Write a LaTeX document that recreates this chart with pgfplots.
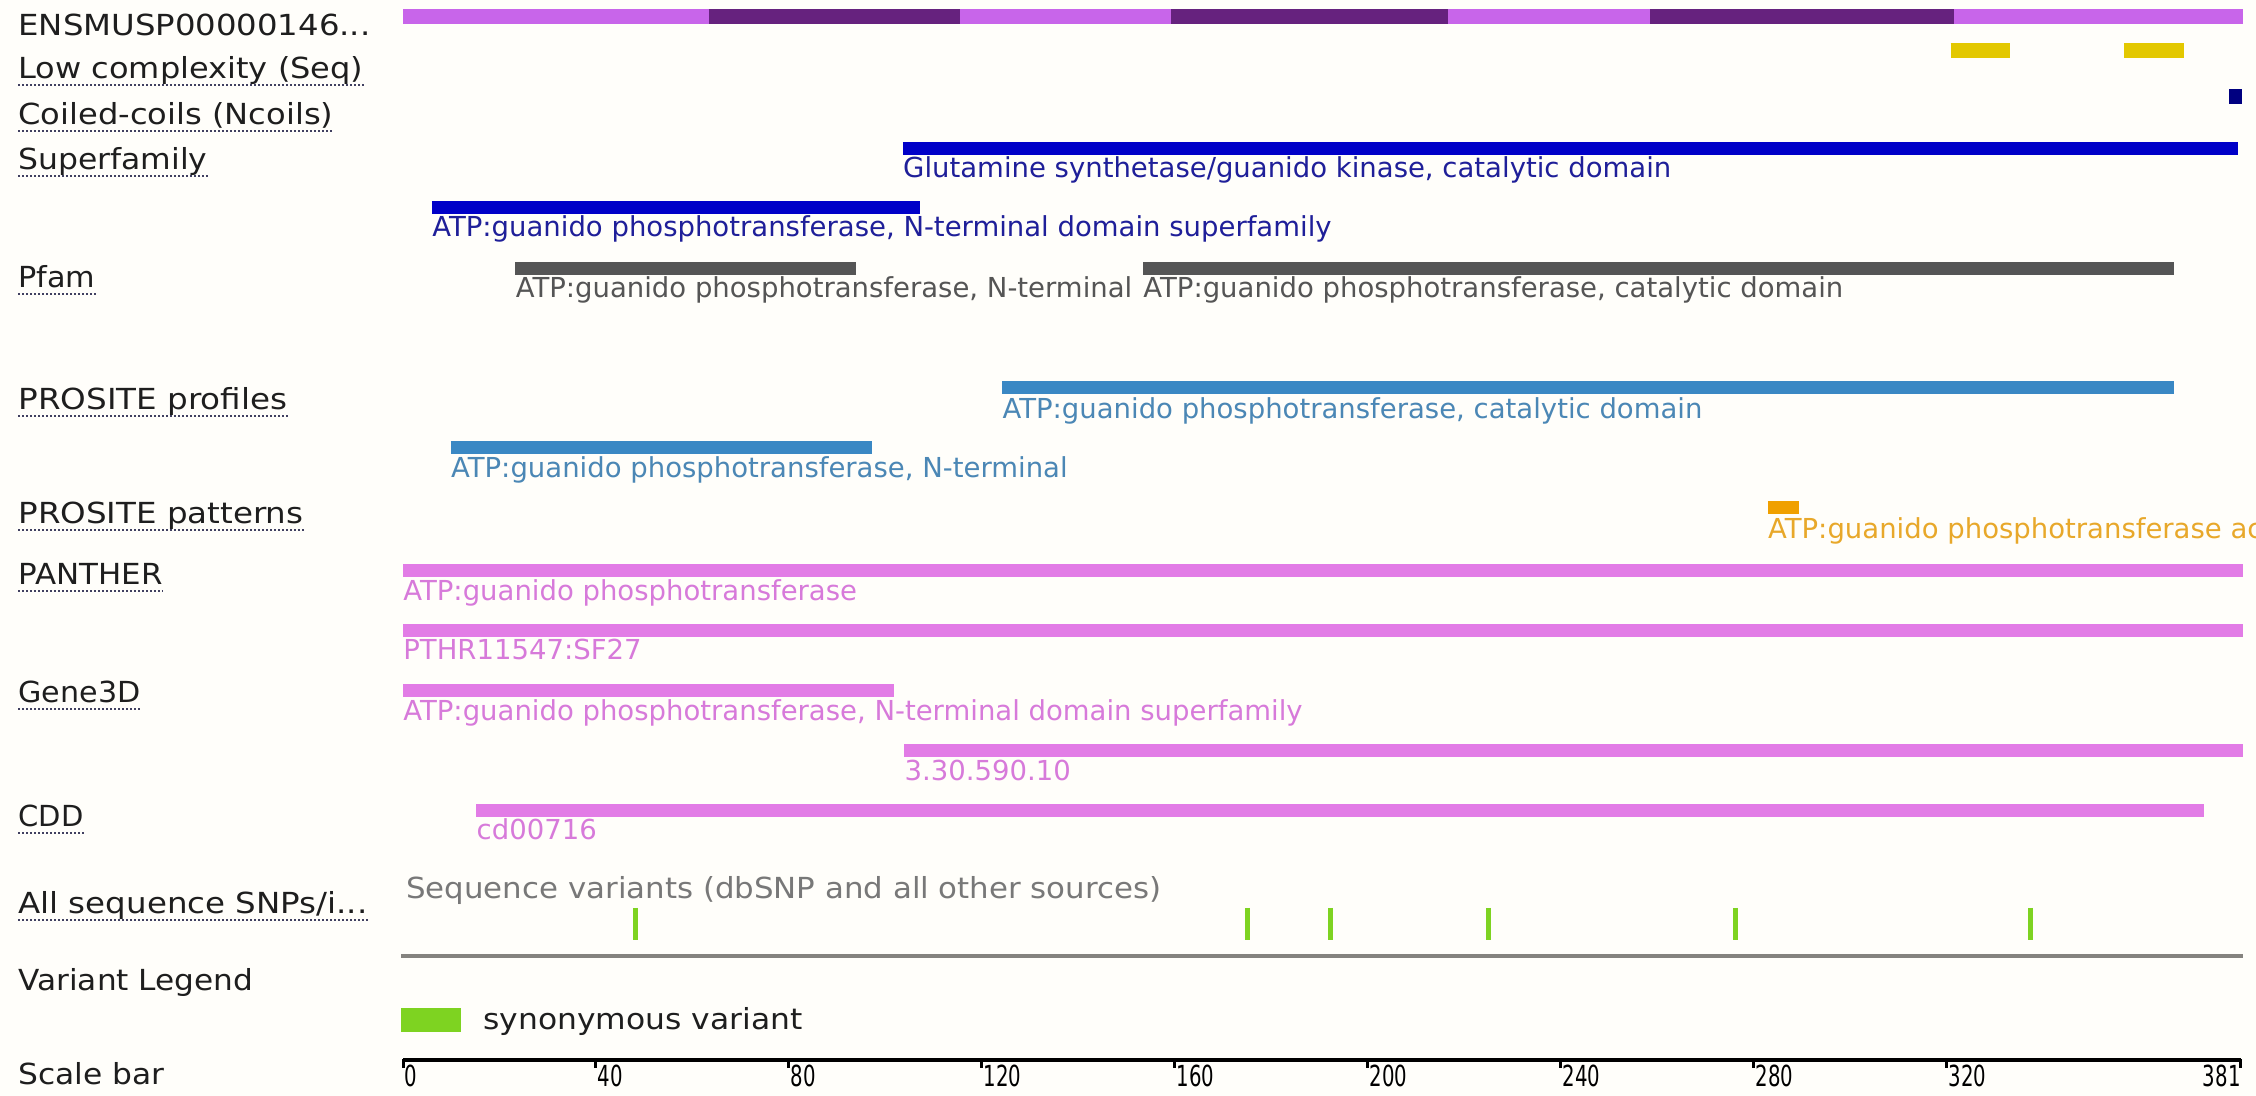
\documentclass[border=0pt]{standalone}
\usepackage{fontspec}
\setmainfont{DejaVu Sans}
\usepackage{graphicx}
\usepackage{pgfplots}
\pgfplotsset{compat=1.18}
\definecolor{bgc}{HTML}{FFFEFA}
\definecolor{exonA}{HTML}{C865EA}
\definecolor{exonB}{HTML}{66227E}
\definecolor{lowc}{HTML}{E3C800}
\definecolor{ncoil}{HTML}{000080}
\definecolor{sfam}{HTML}{0000C8}
\definecolor{sfamtext}{HTML}{1F1F99}
\definecolor{pfam}{HTML}{555555}
\definecolor{prof}{HTML}{3A88C4}
\definecolor{proftext}{HTML}{4B87B5}
\definecolor{patt}{HTML}{F0A000}
\definecolor{patttext}{HTML}{E8A82A}
\definecolor{panther}{HTML}{E27CE6}
\definecolor{panthertext}{HTML}{D77ADA}
\definecolor{snp}{HTML}{7ED321}
\definecolor{gline}{HTML}{85837F}
\definecolor{seqtext}{HTML}{787878}
\definecolor{lab}{HTML}{1E1E1E}
\definecolor{uline}{HTML}{404060}
\newcommand{\hs}[2]{\scalebox{#1}[1]{#2}}
\newcommand{\fw}[2]{\resizebox{#1}{\height}{#2}}
\tikzset{
  bar/.style={line width=6.5pt},
  lbl/.style={anchor=base west, inner sep=0pt, text=lab, font=\fontsize{14.5}{17}\selectfont},
  dl/.style={anchor=base west, inner sep=0pt, font=\fontsize{13.75}{16}\selectfont},
  sl/.style={anchor=base west, inner sep=0pt, text=black, font=\fontsize{14.5}{17}\selectfont},
}
\begin{document}
\begin{tikzpicture}
\fill[bgc] (0,0) rectangle (1128pt,548pt);
\begin{axis}[
  at={(0,0)}, anchor=south west,
  scale only axis, width=1128pt, height=548pt,
  xmin=-83.54, xmax=384.11, ymin=0, ymax=1096, y dir=reverse,
  hide axis, clip=false,
]
% protein exons
\addplot[exonA, bar, line width=7.5pt, forget plot] coordinates {(0,16.5)(63.4,16.5)};
\addplot[exonB, bar, line width=7.5pt, forget plot] coordinates {(63.4,16.5)(115.5,16.5)};
\addplot[exonA, bar, line width=7.5pt, forget plot] coordinates {(115.5,16.5)(159.2,16.5)};
\addplot[exonB, bar, line width=7.5pt, forget plot] coordinates {(159.2,16.5)(216.6,16.5)};
\addplot[exonA, bar, line width=7.5pt, forget plot] coordinates {(216.6,16.5)(258.5,16.5)};
\addplot[exonB, bar, line width=7.5pt, forget plot] coordinates {(258.5,16.5)(321.6,16.5)};
\addplot[exonA, bar, line width=7.5pt, forget plot] coordinates {(321.6,16.5)(381.5,16.5)};
% low complexity
\addplot[lowc, bar, line width=7.5pt, forget plot] coordinates {(320.8,50.5)(333.1,50.5)};
\addplot[lowc, bar, line width=7.5pt, forget plot] coordinates {(356.8,50.5)(369.2,50.5)};
% coiled coils
\addplot[ncoil, bar, line width=7.5pt, forget plot] coordinates {(378.6,96.5)(381.3,96.5)};
% superfamily
\addplot[sfam, bar, forget plot] coordinates {(103.6,148.5)(380.4,148.5)};
\addplot[sfam, bar, forget plot] coordinates {(6.0,208)(107.2,208)};
% pfam
\addplot[pfam, bar, forget plot] coordinates {(23.3,268.5)(94.0,268.5)};
\addplot[pfam, bar, forget plot] coordinates {(153.4,268.5)(367.2,268.5)};
% prosite profiles
\addplot[prof, bar, forget plot] coordinates {(124.2,388)(367.2,388)};
\addplot[prof, bar, forget plot] coordinates {(9.9,448)(97.3,448)};
% prosite patterns
\addplot[patt, bar, forget plot] coordinates {(282.9,507.5)(289.4,507.5)};
% panther
\addplot[panther, bar, forget plot] coordinates {(0,571)(381.5,571)};
\addplot[panther, bar, forget plot] coordinates {(0,631)(381.5,631)};
% gene3d
\addplot[panther, bar, forget plot] coordinates {(0,691)(101.8,691)};
\addplot[panther, bar, forget plot] coordinates {(103.9,751)(381.5,751)};
% cdd
\addplot[panther, bar, forget plot] coordinates {(15.2,810.5)(373.4,810.5)};
% variants
\addplot[gline, line width=2pt, forget plot] coordinates {(-0.4,956.5)(381.5,956.5)};
\addplot[snp, line width=2.5pt, unbounded coords=jump, forget plot] coordinates {
 (48.1,908)(48.1,940) (48.1,nan)
 (175.0,908)(175.0,940) (175.0,nan)
 (192.3,908)(192.3,940) (192.3,nan)
 (225.0,908)(225.0,940) (225.0,nan)
 (276.2,908)(276.2,940) (276.2,nan)
 (337.4,908)(337.4,940)};
% legend box
\addplot[snp, line width=12pt, forget plot] coordinates {(-0.4,1020)(12.0,1020)};
% scale bar
\addplot[black, line width=2pt, forget plot] coordinates {(0,1060)(381,1060)};
\addplot[black, line width=1.5pt, unbounded coords=jump, forget plot] coordinates {
 (0.15,1059)(0.15,1068) (0,nan)
 (40,1059)(40,1068) (40,nan)
 (80,1059)(80,1068) (80,nan)
 (120,1059)(120,1068) (120,nan)
 (160,1059)(160,1068) (160,nan)
 (200,1059)(200,1068) (200,nan)
 (240,1059)(240,1068) (240,nan)
 (280,1059)(280,1068) (280,nan)
 (320,1059)(320,1068) (320,nan)
 (380.85,1059)(380.85,1068)};

% track labels
\node[lbl] (t0) at (axis cs:-79.8,36) {\fw{176pt}{ENSMUSP00000146...}};
\node[lbl] (t1) at (axis cs:-79.8,79) {\fw{172.5pt}{Low complexity (Seq)}};
\node[lbl] (t2) at (axis cs:-79.8,125) {\fw{157.5pt}{Coiled-coils (Ncoils)}};
\node[lbl] (t3) at (axis cs:-79.8,170) {\fw{94.5pt}{Superfamily}};
\node[lbl] (t4) at (axis cs:-79.8,288) {\fw{38.5pt}{Pfam}};
\node[lbl] (t5) at (axis cs:-79.8,410) {\fw{134.5pt}{PROSITE profiles}};
\node[lbl] (t6) at (axis cs:-79.8,524) {\fw{142.5pt}{PROSITE patterns}};
\node[lbl] (t7) at (axis cs:-79.8,585) {\fw{72pt}{PANTHER}};
\node[lbl] (t8) at (axis cs:-79.8,703) {\fw{61pt}{Gene3D}};
\node[lbl] (t9) at (axis cs:-79.8,827) {\fw{32.5pt}{CDD}};
\node[lbl] (t10) at (axis cs:-79.8,914) {\fw{174.5pt}{All sequence SNPs/i...}};
\node[lbl] (t11) at (axis cs:-79.8,991) {\fw{117.5pt}{Variant Legend}};
\node[lbl] (t12) at (axis cs:-79.8,1085) {\fw{73pt}{Scale bar}};

% feature labels
\node[dl, text=sfamtext] at (axis cs:103.6,178) {Glutamine synthetase/guanido kinase, catalytic domain};
\node[dl, text=sfamtext] at (axis cs:6.0,237) {ATP:guanido phosphotransferase, N-terminal domain superfamily};
\node[dl, text=pfam] at (axis cs:23.3,298) {ATP:guanido phosphotransferase, N-terminal};
\node[dl, text=pfam] at (axis cs:153.4,298) {ATP:guanido phosphotransferase, catalytic domain};
\node[dl, text=proftext] at (axis cs:124.2,419) {ATP:guanido phosphotransferase, catalytic domain};
\node[dl, text=proftext] at (axis cs:9.9,478) {ATP:guanido phosphotransferase, N-terminal};
\node[dl, text=patttext] at (axis cs:282.9,539) {ATP:guanido phosphotransferase active site};
\node[dl, text=panthertext] at (axis cs:0,601) {ATP:guanido phosphotransferase};
\node[dl, text=panthertext] at (axis cs:0,660) {PTHR11547:SF27};
\node[dl, text=panthertext] at (axis cs:0,721) {ATP:guanido phosphotransferase, N-terminal domain superfamily};
\node[dl, text=panthertext] at (axis cs:103.9,781) {3.30.590.10};
\node[dl, text=panthertext] at (axis cs:15.2,840) {cd00716};
\node[sl, text=seqtext] at (axis cs:0.6,899) {\fw{377.5pt}{Sequence variants (dbSNP and all other sources)}};
\node[sl, text=lab] at (axis cs:16.6,1030) {\fw{159.5pt}{synonymous variant}};

% scale numbers
\node[sl] at (axis cs:0.3,1087) {\hs{0.68}{0}};
\node[sl] at (axis cs:40.3,1087) {\hs{0.68}{40}};
\node[sl] at (axis cs:80.3,1087) {\hs{0.68}{80}};
\node[sl] at (axis cs:120.3,1087) {\hs{0.68}{120}};
\node[sl] at (axis cs:160.3,1087) {\hs{0.68}{160}};
\node[sl] at (axis cs:200.3,1087) {\hs{0.68}{200}};
\node[sl] at (axis cs:240.3,1087) {\hs{0.68}{240}};
\node[sl] at (axis cs:280.3,1087) {\hs{0.68}{280}};
\node[sl] at (axis cs:320.3,1087) {\hs{0.68}{320}};
\node[sl, anchor=base east] at (axis cs:381,1087) {\hs{0.68}{381}};
\end{axis}
\foreach \n in {t1,t2,t3,t4,t5,t6,t7,t8,t9,t10} {
  \draw[uline, line width=0.7pt, dash pattern=on 1.2pt off 0.8pt] ([yshift=-3pt]\n.base west) -- ([yshift=-3pt]\n.base east);
}
\pgfresetboundingbox
\path (current axis.south west) rectangle (current axis.north east);
\end{tikzpicture}
\end{document}
